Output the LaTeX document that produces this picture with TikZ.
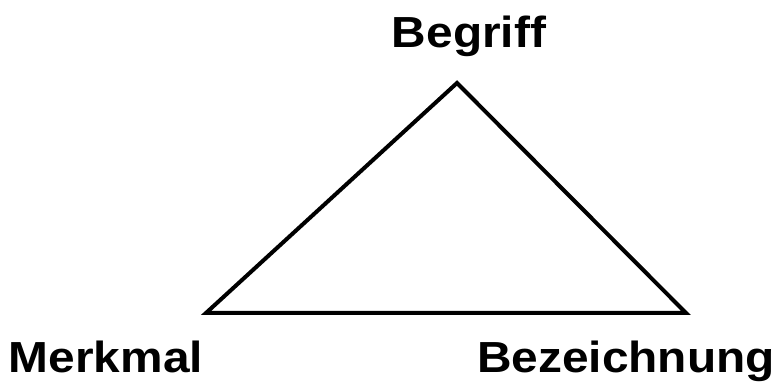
\documentclass[tikz,border=0pt]{standalone}
\usepackage{fontspec}
\setmainfont{Liberation Sans}[FakeStretch=1.1]
\begin{document}
\begin{tikzpicture}[x=1pt,y=1pt,
  lbl/.style={anchor=base,inner sep=0pt,font=\fontsize{43.5}{43.5}\selectfont\bfseries},
  edge/.style={line width=4pt,line join=miter}]
\useasboundingbox (0,0) rectangle (781,388);
\coordinate (T) at (457,305);
\coordinate (L) at (206,75);
\coordinate (R) at (686,75);
\draw[edge] (L) -- (T) -- (R) -- cycle;
\node[lbl] (b) at (469,340) {Begriff};
\node[lbl] (m) at (106,16) {Merkmal};
\node[lbl] (z) at (626,16) {Bezeichnung};
\end{tikzpicture}
\end{document}
